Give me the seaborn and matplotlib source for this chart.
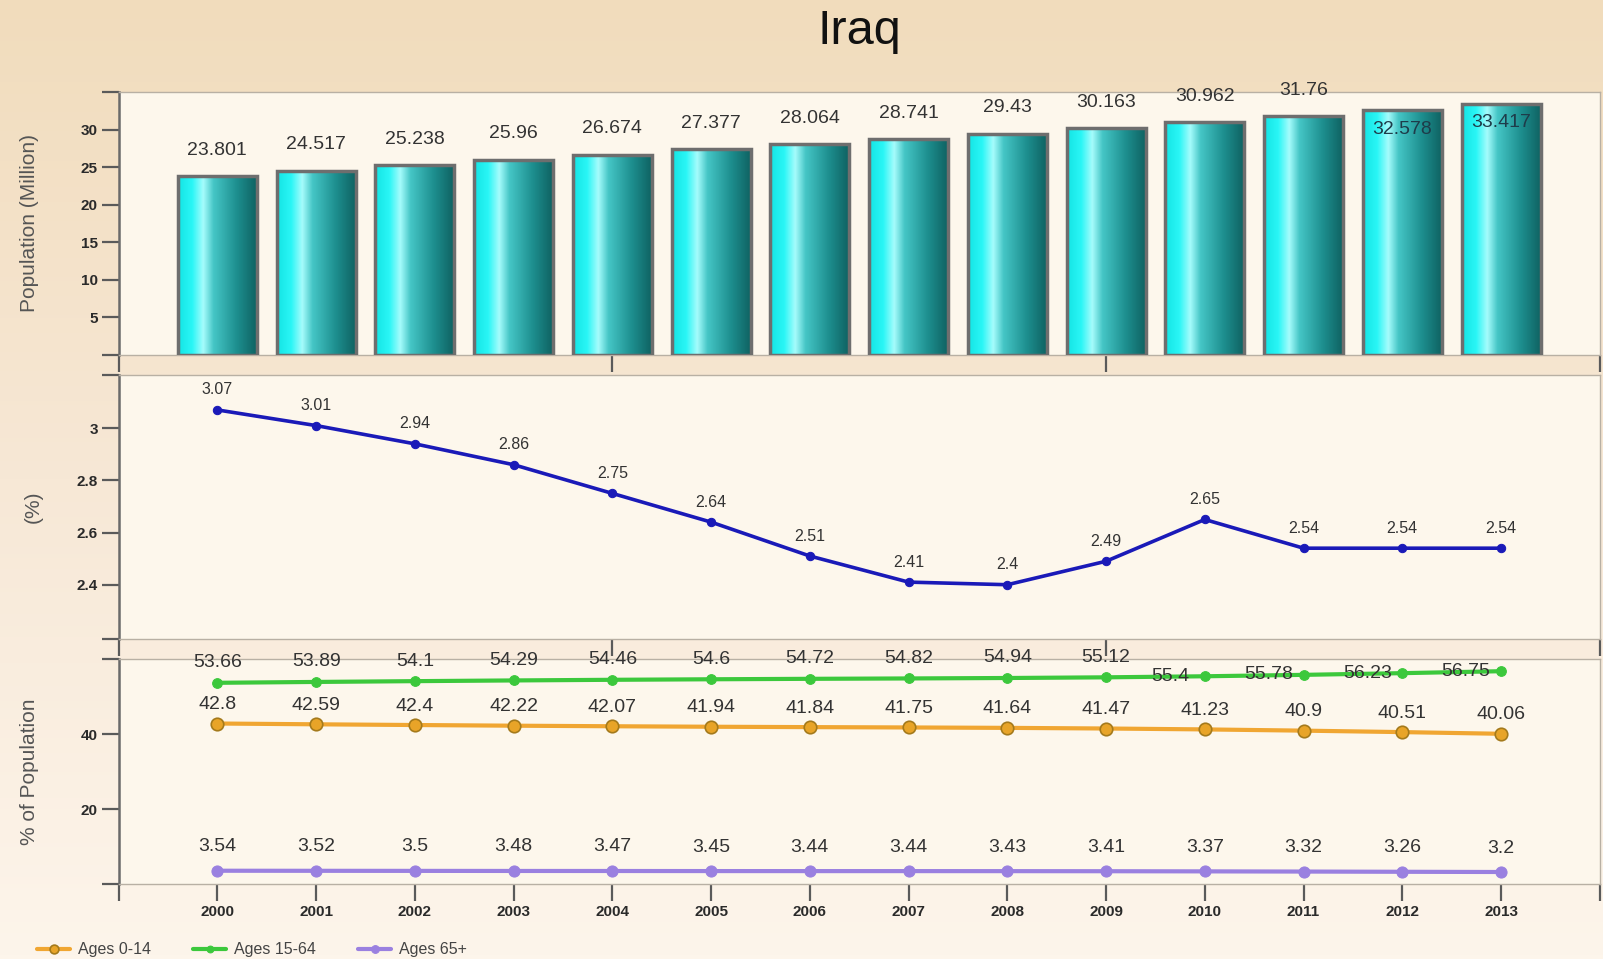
import numpy as np
import pandas as pd
import seaborn as sns
import matplotlib.pyplot as plt
from matplotlib.colors import LinearSegmentedColormap

sns.set_theme(style="ticks")
plt.rcParams['font.family'] = ['Liberation Sans Narrow', 'Liberation Sans', 'DejaVu Sans']

years = ['2000', '2001', '2002', '2003', '2004', '2005', '2006',
         '2007', '2008', '2009', '2010', '2011', '2012', '2013']
population = [23.801, 24.517, 25.238, 25.96, 26.674, 27.377, 28.064,
              28.741, 29.43, 30.163, 30.962, 31.76, 32.578, 33.417]
growth = [3.07, 3.01, 2.94, 2.86, 2.75, 2.64, 2.51,
          2.41, 2.4, 2.49, 2.65, 2.54, 2.54, 2.54]
ages_0_14 = [42.8, 42.59, 42.4, 42.22, 42.07, 41.94, 41.84,
             41.75, 41.64, 41.47, 41.23, 40.9, 40.51, 40.06]
ages_15_64 = [53.66, 53.89, 54.1, 54.29, 54.46, 54.6, 54.72,
              54.82, 54.94, 55.12, 55.4, 55.78, 56.23, 56.75]
ages_65 = [3.54, 3.52, 3.5, 3.48, 3.47, 3.45, 3.44,
           3.44, 3.43, 3.41, 3.37, 3.32, 3.26, 3.2]

idx = np.arange(len(years))
label_color = '#333333'
tick_color = '#5a5a5a'

fig = plt.figure(figsize=(16.03, 9.59), dpi=100)

# background gradient
bg = fig.add_axes([0, 0, 1, 1], zorder=-10)
bg_cmap = LinearSegmentedColormap.from_list('bg', ['#f1dcbc', '#f7e8d6', '#fdf5eb'])
bg.imshow(np.linspace(0, 1, 256).reshape(-1, 1), aspect='auto', cmap=bg_cmap,
          extent=[0, 1, 0, 1])
bg.set_axis_off()

left, width = 0.074, 0.924
ax1 = fig.add_axes([left, 0.630, width, 0.274])
ax2 = fig.add_axes([left, 0.3337, width, 0.2753])
ax3 = fig.add_axes([left, 0.0782, width, 0.2346])


def style_axes(ax):
    ax.set_facecolor('#fdf7ec')
    for s in ['top', 'right', 'bottom']:
        ax.spines[s].set_color('#b8b0a4')
        ax.spines[s].set_linewidth(1.0)
    ax.spines['left'].set_color('#6a6a6a')
    ax.spines['left'].set_linewidth(1.8)
    ax.tick_params(axis='both', direction='out', length=12, width=1.6,
                   color=tick_color, labelcolor='#2a2a2a', labelsize=11, pad=3)
    ax.set_xlim(-1, 14)


# --- top panel: population bars with gradient fill
bar_df = pd.DataFrame({'year': years, 'population': population})
sns.barplot(data=bar_df, x='year', y='population', ax=ax1, width=0.8,
            color='#20d0d0', edgecolor='#6e6e6e', linewidth=2.5)
bar_cmap = LinearSegmentedColormap.from_list(
    'bar', [(0, '#14e4e4'), (0.18, '#2af6f6'), (0.32, '#a6fcfc'),
            (0.45, '#45c6c6'), (0.75, '#1d8e8e'), (1.0, '#0f6262')])
grad = np.linspace(0, 1, 256).reshape(1, -1)
for patch in ax1.patches:
    x0, y0 = patch.get_x(), patch.get_y()
    w, h = patch.get_width(), patch.get_height()
    patch.set_facecolor('none')
    patch.set_zorder(3)
    im = ax1.imshow(grad, extent=[x0, x0 + w, y0, y0 + h], aspect='auto',
                    cmap=bar_cmap, zorder=2)
    im.set_clip_path(patch)
style_axes(ax1)
ax1.set_ylim(0, 35)
ax1.set_yticks([0, 5, 10, 15, 20, 25, 30, 35],
               labels=['', '5', '10', '15', '20', '25', '30', ''], fontweight='bold')
ax1.set_xticks([-1, 4, 9, 14], labels=[])
ax1.set_xlabel('')
ax1.set_ylabel('Population (Million)', fontsize=15, color='#555555',
               family=['Liberation Sans', 'DejaVu Sans'], labelpad=30)
for i, v in enumerate(population):
    inside = v > 32
    ax1.annotate(f'{v:g}', (i, v), xytext=(0, -19 if inside else 26),
                 textcoords='offset pixels', ha='center', va='center',
                 fontsize=14, color='#1e3c4a' if inside else label_color, zorder=5)

# --- middle panel: growth rate
sns.lineplot(x=idx, y=growth, ax=ax2, color='#1a1ab8', linewidth=2.6,
             marker='o', markersize=6, markeredgecolor='#1a1ab8')
style_axes(ax2)
ax2.set_ylim(2.192, 3.204)
ax2.set_yticks([2.192, 2.4, 2.6, 2.8, 3.0, 3.204],
               labels=['', '2.4', '2.6', '2.8', '3', ''], fontweight='bold')
ax2.set_xticks([-1, 4, 9, 14], labels=[])
ax2.set_ylabel('(%)', fontsize=15, color='#555555',
               family=['Liberation Sans', 'DejaVu Sans'], labelpad=24)
for i, v in enumerate(growth):
    ax2.annotate(f'{v:g}', (i, v), xytext=(0, 20), textcoords='offset pixels',
                 ha='center', va='center', fontsize=11.5, color=label_color)

# --- bottom panel: age structure
sns.lineplot(x=idx, y=ages_0_14, ax=ax3, color='#f0a632', linewidth=3,
             marker='o', markersize=9, markerfacecolor='#e8a428',
             markeredgecolor='#a47a1c', markeredgewidth=1.2, label='Ages 0-14')
sns.lineplot(x=idx, y=ages_15_64, ax=ax3, color='#3cc83c', linewidth=3,
             marker='o', markersize=7, markeredgecolor='#3cc83c', label='Ages 15-64')
sns.lineplot(x=idx, y=ages_65, ax=ax3, color='#9a80e0', linewidth=3,
             marker='o', markersize=8, markeredgecolor='#9a80e0', label='Ages 65+')
style_axes(ax3)
ax3.set_ylim(0, 60)
ax3.set_yticks([0, 20, 40, 60], labels=['', '20', '40', ''], fontweight='bold')
ax3.set_xticks(np.concatenate([[-1], idx, [14]]),
               labels=[''] + years + [''], fontweight='bold')
ax3.set_ylabel('% of Population', fontsize=15, color='#555555',
               family=['Liberation Sans', 'DejaVu Sans'], labelpad=30)
for i, v in enumerate(ages_0_14):
    ax3.annotate(f'{v:g}', (i, v), xytext=(0, 19), textcoords='offset pixels',
                 ha='center', va='center', fontsize=14, color=label_color)
for i, v in enumerate(ages_15_64):
    off = (-35, 0) if v > 55.2 else (0, 20)
    ax3.annotate(f'{v:g}', (i, v), xytext=off, textcoords='offset pixels',
                 ha='center', va='center', fontsize=14, color=label_color)
for i, v in enumerate(ages_65):
    ax3.annotate(f'{v:g}', (i, v), xytext=(0, 24), textcoords='offset pixels',
                 ha='center', va='center', fontsize=14, color=label_color)

handles, labels = ax3.get_legend_handles_labels()
ax3.get_legend().remove()
fig.legend(handles, labels, loc='lower left', bbox_to_anchor=(0.014, -0.013),
           ncol=3, frameon=False, fontsize=11.5, handlelength=2.1,
           handletextpad=0.5, markerscale=0.7,
           columnspacing=2.6, labelcolor='#444444')

fig.text(0.536, 0.967, 'Iraq', ha='center', va='center', fontsize=35,
         color='#111111', family=['Liberation Sans', 'DejaVu Sans'])

fig.savefig('out.png', dpi=100)
